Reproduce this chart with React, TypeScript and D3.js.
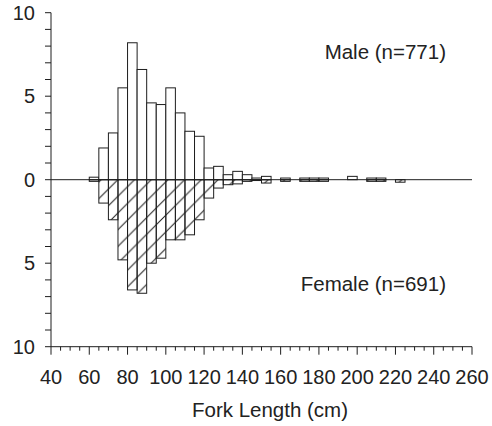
import React from "react";
import * as d3 from "d3";

const binStarts = [60,65,70,75,80,85,90,95,100,105,110,115,120,125,130,135,140,145,150,155,160,165,170,175,180,185,190,195,200,205,210,215,220];
const maleValues = [0.15,1.9,2.8,5.5,8.2,6.6,4.6,4.5,5.5,4.0,2.9,2.6,0.7,0.8,0.3,0.5,0.3,0.1,0.2,0,0.1,0,0.1,0.1,0.1,0,0,0.2,0,0.1,0.1,0,0];
const femaleValues = [0.1,1.4,2.4,4.8,6.6,6.8,5.0,4.7,3.6,3.6,3.3,2.4,1.1,0.5,0.3,0.25,0.1,0.05,0.2,0,0.1,0,0.1,0.1,0.1,0,0,0,0,0.1,0.1,0,0.15];
const binWidth = 5;
const xTickValues = [40,60,80,100,120,140,160,180,200,220,240,260];
const yTickValues = [-10,-5,0,5,10];
const maleLabel = "Male (n=771)";
const femaleLabel = "Female (n=691)";
const xTitle = "Fork Length (cm)";

const W = 492, H = 426;
const FONT = "'Liberation Sans', Arial, sans-serif";

export default function App() {
  const x = d3.scaleLinear().domain([40, 260]).range([51, 472]);
  const y = d3.scaleLinear().domain([-10, 10]).range([346.7, 12.7]);
  const minorX = d3.range(40, 261, 5);
  const minorY = d3.range(-10, 11, 1);
  const ink = "#1e1e1e";
  const hs = y(0) - y(1);
  return (
    <svg width={W} height={H} style={{ position: "absolute", left: 0, top: 0, background: "#fff" }} fontFamily={FONT}>
      <defs>
        <pattern id="hatch" patternUnits="userSpaceOnUse" width={hs} height={hs} x={x(40)} y={y(0)}>
          <line x1={0} y1={hs} x2={hs} y2={0} stroke={ink} strokeWidth={1} />
          <line x1={-1} y1={1} x2={1} y2={-1} stroke={ink} strokeWidth={1} />
          <line x1={hs - 1} y1={hs + 1} x2={hs + 1} y2={hs - 1} stroke={ink} strokeWidth={1} />
        </pattern>
      </defs>
      {binStarts.map((b, i) => femaleValues[i] > 0 ? (
        <rect key={"f" + i} x={x(b)} width={x(b + binWidth) - x(b)} y={y(0)} height={y(-femaleValues[i]) - y(0)}
          fill="url(#hatch)" stroke={ink} strokeWidth={1} />
      ) : null)}
      {binStarts.map((b, i) => maleValues[i] > 0 ? (
        <rect key={"m" + i} x={x(b)} width={x(b + binWidth) - x(b)} y={y(maleValues[i])} height={y(0) - y(maleValues[i])}
          fill="#fff" stroke={ink} strokeWidth={1} />
      ) : null)}
      <line x1={x(40)} x2={x(260)} y1={y(0)} y2={y(0)} stroke={ink} strokeWidth={1} />
      <line x1={x(40)} x2={x(40)} y1={y(10)} y2={y(-10)} stroke={ink} strokeWidth={1} />
      {minorY.map(v => (
        <line key={"yt" + v} x1={x(40) - 6} x2={x(40)} y1={y(v)} y2={y(v)} stroke={ink} strokeWidth={1} />
      ))}
      {yTickValues.map(v => (
        <text key={"yl" + v} x={x(40) - 16} y={y(v)} dy="0.36em" textAnchor="end" fontSize={20} fill="#222">{Math.abs(v)}</text>
      ))}
      <line x1={x(40)} x2={x(260)} y1={y(-10)} y2={y(-10)} stroke={ink} strokeWidth={1} />
      {minorX.map(v => (
        <line key={"xt" + v} x1={x(v)} x2={x(v)} y1={y(-10)} y2={y(-10) + (v % 20 === 0 ? 8 : 4)} stroke={ink} strokeWidth={1} />
      ))}
      {xTickValues.map(v => (
        <text key={"xl" + v} x={x(v)} y={384} textAnchor="middle" fontSize={20} fill="#222">{v}</text>
      ))}
      <text x={270} y={417} textAnchor="middle" fontSize={20.5} fill="#222">{xTitle}</text>
      <text x={446} y={59} textAnchor="end" fontSize={20.5} fill="#222">{maleLabel}</text>
      <text x={446} y={291} textAnchor="end" fontSize={20.5} fill="#222">{femaleLabel}</text>
    </svg>
  );
}
